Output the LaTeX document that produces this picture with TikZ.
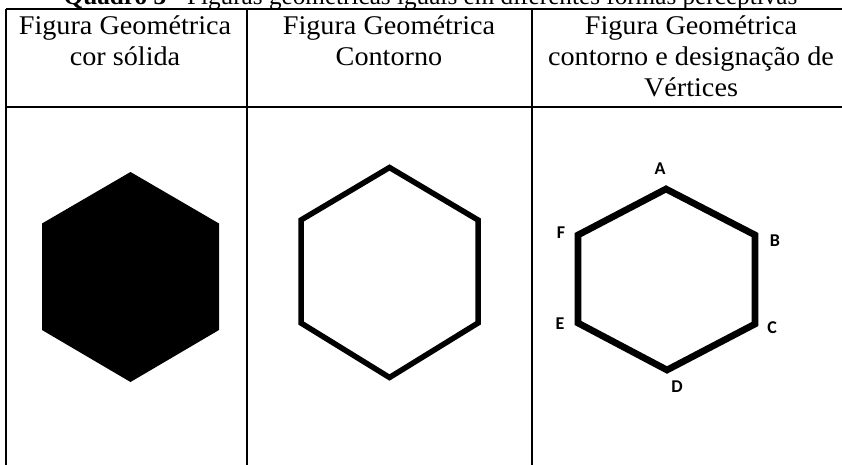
\documentclass[tikz,border=0pt]{standalone}
\usepackage{fontspec}
\setmainfont{Liberation Serif}
\newfontfamily\lblfont{Carlito}
\begin{document}
\begin{tikzpicture}[x=1pt,y=-1pt,
  grid/.style={line width=2pt, black},
  headtxt/.style={font=\fontsize{27}{31}\selectfont, inner sep=0pt, anchor=base, xscale=1.045, transform shape},
  titletxt/.style={font=\fontsize{25.2}{28}\selectfont, inner sep=0pt, anchor=base},
  vlabel/.style={font=\lblfont\bfseries\fontsize{18}{20}\selectfont, inner sep=0pt, anchor=center},
  hexline/.style={line join=miter, black}]
\useasboundingbox (0,0) rectangle (842,465);
\fill[white] (0,0) rectangle (842,465);
% title (cut off at the top edge, as in the reference)
\node[titletxt] (title) at (430.5,5) {\textbf{Quadro 3} - Figuras geométricas iguais em diferentes formas perceptivas};
% table grid
\coordinate (tl) at (6,9.3);
\coordinate (tr) at (842,9.3);
\coordinate (hl) at (6,107);
\coordinate (hr) at (842,107);
\coordinate (v1t) at (6,9.3);   \coordinate (v1b) at (6,465);
\coordinate (v2t) at (247,9.3); \coordinate (v2b) at (247,465);
\coordinate (v3t) at (532,9.3); \coordinate (v3b) at (532,465);
\draw[grid] (tl) -- (tr);
\draw[grid] (hl) -- (hr);
\draw[grid] (v1t) -- (v1b);
\draw[grid] (v2t) -- (v2b);
\draw[grid] (v3t) -- (v3b);
% headers
\node[headtxt] (h1a) at (125,35) {Figura Geométrica};
\node[headtxt] (h1b) at (125,65.5) {cor sólida};
\node[headtxt] (h2a) at (389,35) {Figura Geométrica};
\node[headtxt] (h2b) at (389,65.5) {Contorno};
\node[headtxt] (h3a) at (691,35) {Figura Geométrica};
\node[headtxt] (h3b) at (691,65.7) {contorno e designação de};
\node[headtxt] (h3c) at (691,97) {Vértices};
% hexagon 1 (solid)
\coordinate (s1) at (130.5,172);
\coordinate (s2) at (219,223.5);
\coordinate (s3) at (219,330);
\coordinate (s4) at (130.5,382);
\coordinate (s5) at (42,330);
\coordinate (s6) at (42,223.5);
\fill[black] (s1) -- (s2) -- (s3) -- (s4) -- (s5) -- (s6) -- cycle;
% hexagon 2 (outline)
\coordinate (o1) at (389.5,167.5);
\coordinate (o2) at (478,220);
\coordinate (o3) at (478,323);
\coordinate (o4) at (389.5,377.5);
\coordinate (o5) at (301,323);
\coordinate (o6) at (301,220);
\draw[hexline, line width=5.5pt] (o1) -- (o2) -- (o3) -- (o4) -- (o5) -- (o6) -- cycle;
% hexagon 3 (outline with vertex names)
\coordinate (A) at (666,189);
\coordinate (B) at (755,235);
\coordinate (C) at (755,324);
\coordinate (D) at (667,370);
\coordinate (E) at (578,323);
\coordinate (F) at (578,235);
\draw[hexline, line width=6.7pt] (A) -- (B) -- (C) -- (D) -- (E) -- (F) -- cycle;
\node[vlabel] (lA) at (660,169) {A};
\node[vlabel] (lB) at (775,241) {B};
\node[vlabel] (lC) at (772,328) {C};
\node[vlabel] (lD) at (677,387) {D};
\node[vlabel] (lE) at (560,324) {E};
\node[vlabel] (lF) at (561,233) {F};
\end{tikzpicture}
\end{document}
